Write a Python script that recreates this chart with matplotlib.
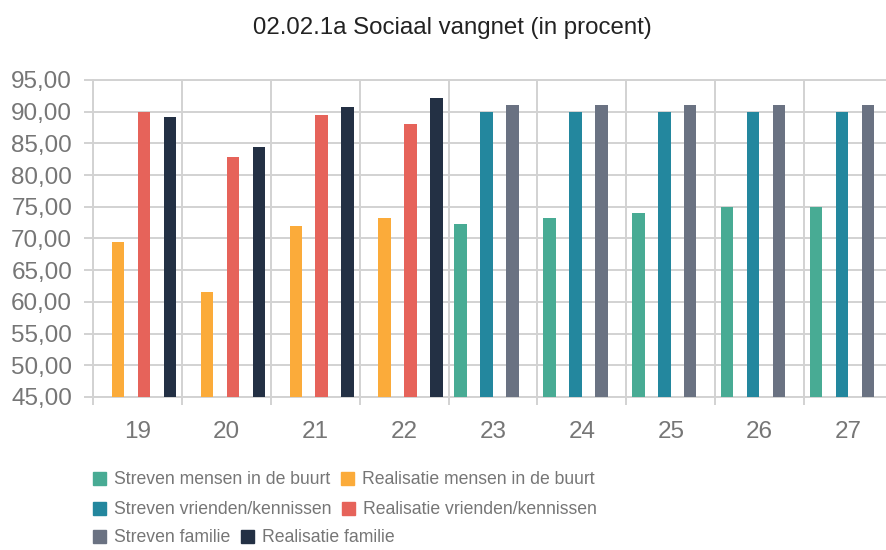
import numpy as np
from matplotlib import pyplot as plt
from matplotlib.ticker import FuncFormatter, MultipleLocator
from matplotlib.patches import Patch

# Sociaal vangnet, jaren 2019 t/m 2027
years = ["19", "20", "21", "22", "23", "24", "25", "26", "27"]

nan = np.nan
streven_buurt = [nan, nan, nan, nan, 72.3, 73.2, 74.1, 75.0, 75.0]
realisatie_buurt = [69.5, 61.5, 72.0, 73.2, nan, nan, nan, nan, nan]
streven_vrienden = [nan, nan, nan, nan, 90.0, 90.0, 90.0, 90.0, 90.0]
realisatie_vrienden = [89.9, 82.9, 89.5, 88.0, nan, nan, nan, nan, nan]
streven_familie = [nan, nan, nan, nan, 91.0, 91.0, 91.0, 91.0, 91.0]
realisatie_familie = [89.2, 84.5, 90.8, 92.1, nan, nan, nan, nan, nan]

series_names = [
    "Streven mensen in de buurt",
    "Realisatie mensen in de buurt",
    "Streven vrienden/kennissen",
    "Realisatie vrienden/kennissen",
    "Streven familie",
    "Realisatie familie",
]
series_values = [streven_buurt, realisatie_buurt, streven_vrienden,
                 realisatie_vrienden, streven_familie, realisatie_familie]
colors = ["#48ab94", "#fbab3a", "#23879e", "#e6635a", "#6a7282", "#233044"]

grid_col = "#d2d2d2"
label_col = "#767676"
plt.rcParams["font.family"] = "Liberation Sans"

fig = plt.figure(figsize=(8.86, 5.5), dpi=100)
# right edge runs slightly past the picture, like the original
ax = fig.add_axes([93 / 886, 1 - 397 / 550, 800 / 886, 317 / 550])

x = np.arange(len(years))
slot = 0.146
for i, (vals, col) in enumerate(zip(series_values, colors)):
    ax.bar(x + (i - 2.5) * slot, vals, width=0.14, color=col, zorder=3)

ax.set_xlim(-0.5, len(years) - 0.5)
ax.set_ylim(45, 95)

ax.yaxis.set_major_locator(MultipleLocator(5))
ax.yaxis.set_major_formatter(FuncFormatter(lambda v, pos: f"{v:.2f}".replace(".", ",")))
ax.set_xticks(x)
ax.set_xticklabels(years)
ax.set_xticks(np.arange(len(years) + 1) - 0.5, minor=True)

ax.grid(axis="y", which="major", color=grid_col, lw=1.4, zorder=0)
ax.grid(axis="x", which="minor", color=grid_col, lw=1.4, zorder=0)
# tick sizes in points (px * 0.72)
ax.tick_params(axis="y", length=6.5, width=1.4, color=grid_col, pad=8.5,
               labelsize=17.5, labelcolor=label_col)
ax.tick_params(axis="x", which="major", length=0, pad=17,
               labelsize=17.5, labelcolor=label_col)
ax.tick_params(axis="x", which="minor", length=5.8, width=1.4, color=grid_col)
for s in ax.spines.values():
    s.set_color(grid_col)
    s.set_linewidth(1.4)

fig.text(0.511, 1 - 28 / 550, "02.02.1a Sociaal vangnet (in procent)",
         ha="center", va="center", fontsize=17.3, color="#222222")

# legend, three rows of two entries
rows = [(0, 1, 480), (2, 3, 510), (4, 5, 538)]
for a, b, ypix in rows:
    handles = [Patch(color=colors[a]), Patch(color=colors[b])]
    leg = fig.legend(handles, [series_names[a], series_names[b]], ncol=2,
                     loc="center left", bbox_to_anchor=(93 / 886, 1 - ypix / 550),
                     frameon=False, borderpad=0, borderaxespad=0,
                     handlelength=0.74, handleheight=0.74, handletextpad=0.45,
                     columnspacing=0.6, fontsize=12.7)
    for t in leg.get_texts():
        t.set_color(label_col)

fig.savefig("out.png", dpi=100)
